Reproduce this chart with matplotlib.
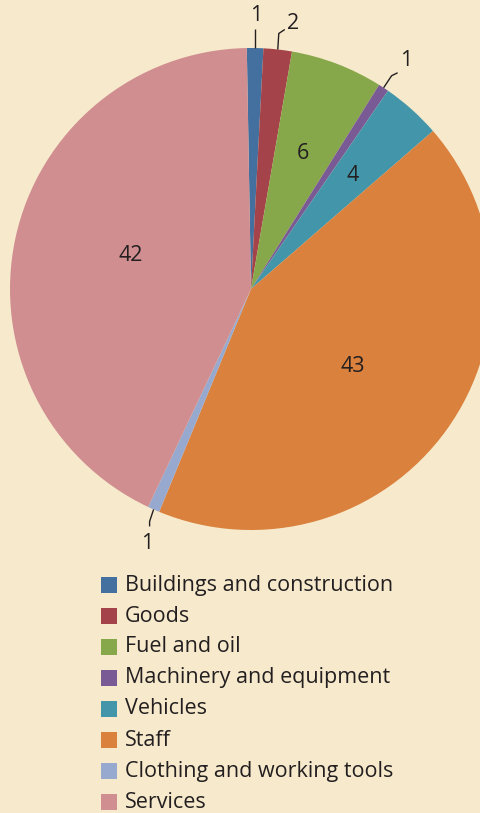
import numpy as np
import matplotlib.pyplot as plt
from matplotlib.patches import Rectangle

# data (percent shares)
categories = [
    "Buildings and construction",
    "Goods",
    "Fuel and oil",
    "Machinery and equipment",
    "Vehicles",
    "Staff",
    "Clothing and working tools",
    "Services",
]
shares = [1.1, 1.9, 6.2, 0.7, 4.0, 42.6, 0.8, 42.7]
value_labels = ["1", "2", "6", "1", "4", "43", "1", "42"]
colors = ["#4470a0", "#a4434a", "#87a84a", "#7a5a94",
          "#4396aa", "#da813d", "#97a9ce", "#d08e90"]

BG = "#f7eacc"
TXT = "#231f20"
W, H = 481, 813
FS = 15.5

plt.rcParams["font.family"] = ["Open Sans", "DejaVu Sans"]

fig = plt.figure(figsize=(W / 100, H / 100), dpi=100, facecolor=BG)
ax = fig.add_axes([0, 0, 1, 1])
ax.set_facecolor(BG)

# pie in pixel coordinates
cx, cy, R = 251, H - 289, 241
wedges, _ = ax.pie(shares, colors=colors, startangle=91, counterclock=False,
                   radius=R, center=(cx, cy), frame=True,
                   wedgeprops=dict(linewidth=0))

# labels inside the slices: (radius as fraction of R, angle shift in deg)
inside = {2: (0.60, 0), 4: (0.63, 0), 5: (0.53, -1.5), 7: (0.52, -3.5)}
# labels outside with leader lines: (leader path offsets, text offset), px
outside = {
    0: ([(0, 0), (0, 19)], (1.5, 33)),
    1: ([(0, 0), (1, 16), (7, 20)], (15, 26)),
    3: ([(0, 0), (8, 12), (14, 15)], (23, 27)),
    6: ([(0, 0), (-4, -12), (-4, -17)], (-6, -34)),
}

for i, w in enumerate(wedges):
    mid_deg = (w.theta1 + w.theta2) / 2
    if i in inside:
        frac, shift = inside[i]
        r = frac * R
        mid = np.deg2rad(mid_deg + shift)
        ax.text(cx + r * np.cos(mid), cy + r * np.sin(mid), value_labels[i],
                ha="center", va="center", fontsize=FS, color=TXT)
    elif i in outside:
        mid = np.deg2rad(mid_deg)
        path, (tx, ty) = outside[i]
        ax0, ay0 = cx + R * np.cos(mid), cy + R * np.sin(mid)
        xs = [ax0 + p[0] for p in path]
        ys = [ay0 + p[1] for p in path]
        ax.plot(xs, ys, color=TXT, lw=1.0, solid_capstyle="butt")
        ax.text(ax0 + tx, ay0 + ty, value_labels[i],
                ha="center", va="center", fontsize=FS, color=TXT)

# legend drawn row by row
box = 16
x0, y_first, step = 101, H - 585, 31
for i, (name, c) in enumerate(zip(categories, colors)):
    yc = y_first - i * step
    ax.add_patch(Rectangle((x0, yc - box / 2), box, box, facecolor=c,
                           edgecolor="none"))
    ax.text(x0 + 24, yc, name, ha="left", va="center", fontsize=FS,
            color=TXT)

ax.set_xlim(0, W)
ax.set_ylim(0, H)
ax.set_aspect("equal")
ax.axis("off")

fig.savefig("out.png", dpi=100, facecolor=BG)
